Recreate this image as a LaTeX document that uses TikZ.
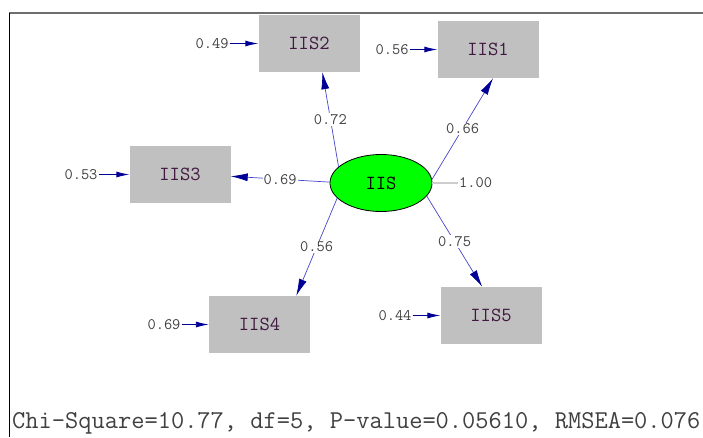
\documentclass[tikz,border=0pt]{standalone}
\usepackage{fontspec}
\usepackage{tikz}
\usetikzlibrary{positioning,arrows.meta,shapes.geometric}
\definecolor{boxgray}{RGB}{192,192,192}
\definecolor{pathblue}{RGB}{70,70,200}
\definecolor{headblue}{RGB}{0,0,150}
\definecolor{numgray}{RGB}{64,64,64}
\definecolor{indtext}{RGB}{64,24,64}
\definecolor{framegray}{RGB}{110,110,110}
\newcommand{\sz}[1]{\ttfamily\fontsize{#1}{#1}\selectfont}

\begin{document}
\begin{tikzpicture}[x=1pt,y=-1pt,
    ind/.style={fill=boxgray,minimum width=101pt,minimum height=57pt,inner sep=0pt,font=\sz{20},text=indtext},
    lat/.style={ellipse,draw=black,line width=0.8pt,fill=green,minimum width=102pt,minimum height=57pt,inner sep=0pt,font=\sz{20}},
    coef/.style={font=\sz{16},text=numgray,fill=white,inner sep=1pt},
    load/.style={draw=pathblue,line width=0.7pt,-{Latex[length=17pt,width=8pt,color=headblue]}},
    err/.style={draw=headblue,line width=0.9pt,-{Latex[length=13pt,width=6pt]}}
]
\useasboundingbox (0,0) rectangle (703,437);

\draw[framegray,line width=1.5pt] (9,13) -- (703,13);
\draw[black,line width=0.8pt] (9,13) -- (9,437);

\node[lat] (iis) at (381,183) {IIS};

\node[ind] (x1) at (488,49.5) {IIS1};
\node[ind] (x2) at (309,43.5) {IIS2};
\node[ind] (x3) at (180,174.5) {IIS3};
\node[ind] (x4) at (259.5,324.5) {IIS4};
\node[ind] (x5) at (491,315.5) {IIS5};

\draw[load] (iis.4) -- node[coef]{0.66} (x1.-80);
\draw[load] (iis.159) -- node[coef]{0.72} (x2.-65.5);
\draw[load] (iis.179) -- node[coef]{0.69} (x3.-2.8);
\draw[load] (iis.199) -- node[coef]{0.56} (x4.38);
\draw[load] (iis.-16) -- node[coef]{0.75} (x5.107.5);

\node[coef] (e1) at (392,49.5) {0.56};
\node[coef] (e2) at (212,43.5) {0.49};
\node[coef] (e3) at (81,174.5) {0.53};
\node[coef] (e4) at (164,324.5) {0.69};
\node[coef] (e5) at (395,315.5) {0.44};

\draw[err] (e1) -- (x1);
\draw[err] (e2) -- (x2);
\draw[err] (e3) -- (x3);
\draw[err] (e4) -- (x4);
\draw[err] (e5) -- (x5);

\node[coef,anchor=west] (var) at (458,183) {1.00};
\draw[boxgray!80,line width=1.5pt] (iis.east) -- (var.west);

\node[font=\sz{25.7},text=numgray,anchor=base west,inner sep=0pt] (fit) at (12,428)
    {Chi-Square=10.77, df=5, P-value=0.05610, RMSEA=0.076};
\end{tikzpicture}
\end{document}
